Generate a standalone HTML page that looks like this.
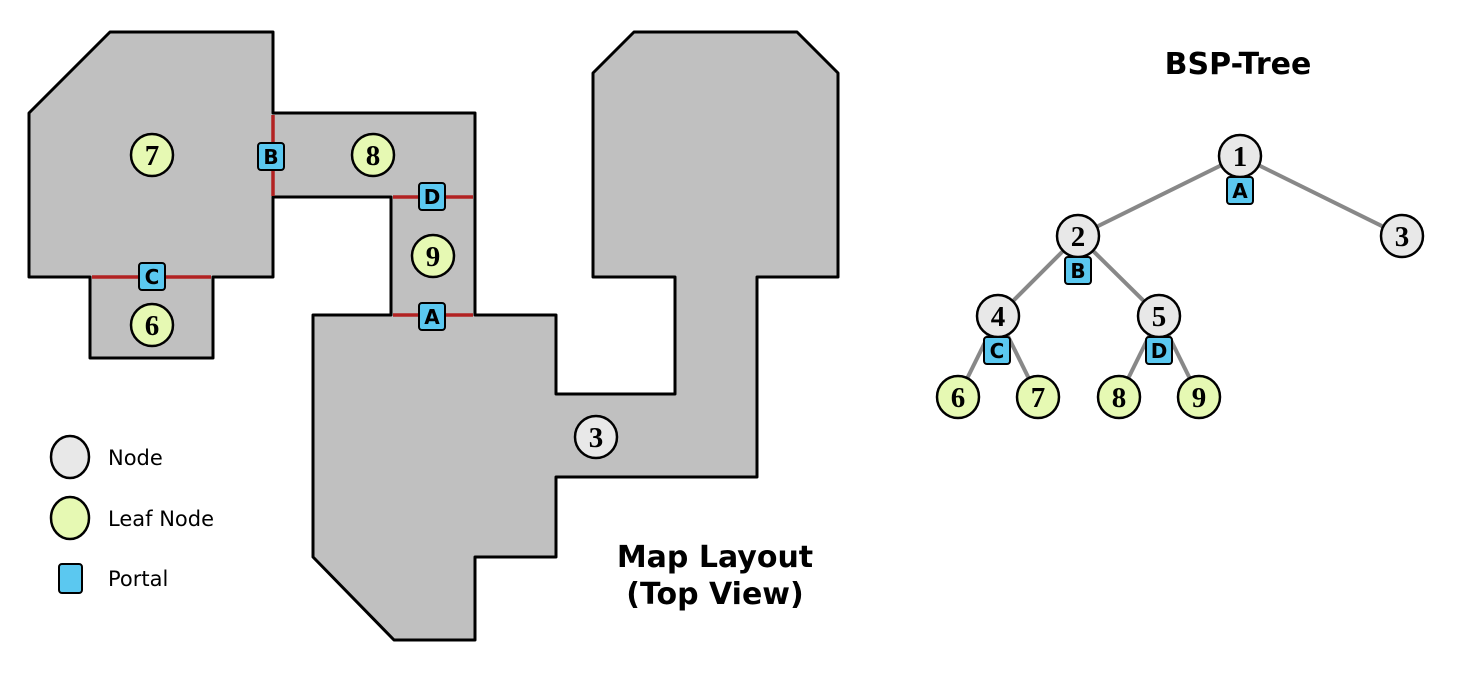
<!DOCTYPE html>
<html><head><meta charset="utf-8"><style>body{margin:0;background:#fff}svg{display:block}</style></head>
<body>
<svg width="1464" height="676" viewBox="0 0 1464 676" xmlns="http://www.w3.org/2000/svg">
<g fill="#c0c0c0" stroke="#000" stroke-width="3" stroke-linejoin="round">
<polygon points="110,32 273,32 273,113 475,113 475,315 556,315 556,394 675,394 675,277 593,277 593,73 634,32 797,32 838,73 838,277 757,277 757,477 556,477 556,557 475,557 475,640 394,640 313,557 313,315 391,315 391,197 273,197 273,277 213,277 213,358 90,358 90,277 29,277 29,113"/>
</g>
<g stroke="#b22222" stroke-width="3.5">
<line x1="273" y1="115" x2="273" y2="196"/>
<line x1="393" y1="197" x2="473" y2="197"/>
<line x1="393" y1="315" x2="473" y2="315"/>
<line x1="92" y1="277" x2="211" y2="277"/>
</g>
<g stroke="#888" stroke-width="4">
<line x1="1240" y1="156" x2="1078" y2="236"/>
<line x1="1240" y1="156" x2="1402" y2="236"/>
<line x1="1078" y1="236" x2="998" y2="316"/>
<line x1="1078" y1="236" x2="1159" y2="316"/>
<line x1="998" y1="316" x2="958" y2="397"/>
<line x1="998" y1="316" x2="1038" y2="397"/>
<line x1="1159" y1="316" x2="1119" y2="397"/>
<line x1="1159" y1="316" x2="1199" y2="397"/>
</g>
<g stroke="#000" stroke-width="2.5" font-family="Liberation Serif, serif" font-weight="bold" font-size="29" text-anchor="middle">
<g fill="#e6f9b3"><circle cx="152" cy="155" r="21"/><circle cx="373" cy="155" r="21"/><circle cx="433" cy="256" r="21"/><circle cx="152" cy="325" r="21"/>
<circle cx="958" cy="397" r="21"/><circle cx="1038" cy="397" r="21"/><circle cx="1119" cy="397" r="21"/><circle cx="1199" cy="397" r="21"/>
<ellipse cx="70" cy="518" rx="19" ry="21"/></g>
<g fill="#e8e8e8"><circle cx="596" cy="437" r="21"/><circle cx="1240" cy="156" r="21"/><circle cx="1078" cy="236" r="21"/><circle cx="1402" cy="236" r="21"/><circle cx="998" cy="316" r="21"/><circle cx="1159" cy="316" r="21"/>
<ellipse cx="70" cy="457" rx="19" ry="21"/></g>
<g fill="#000" stroke="none">
<text x="152" y="165">7</text><text x="373" y="165">8</text><text x="433" y="266">9</text><text x="152" y="335">6</text>
<text x="958" y="407">6</text><text x="1038" y="407">7</text><text x="1119" y="407">8</text><text x="1199" y="407">9</text>
<text x="596" y="447">3</text><text x="1240" y="166">1</text><text x="1078" y="246">2</text><text x="1402" y="246">3</text><text x="998" y="326">4</text><text x="1159" y="326">5</text>
</g>
</g>
<g stroke="#000" stroke-width="2" fill="#5bc8f0" font-family="DejaVu Sans, sans-serif" font-weight="bold" font-size="20" text-anchor="middle">
<rect x="258" y="143" width="26" height="27" rx="3"/><rect x="419" y="183" width="26" height="27" rx="3"/><rect x="139" y="263" width="26" height="27" rx="3"/><rect x="419" y="303" width="26" height="27" rx="3"/>
<rect x="1227" y="177" width="26" height="27" rx="3"/><rect x="1065" y="257" width="26" height="27" rx="3"/><rect x="984" y="337" width="26" height="27" rx="3"/><rect x="1146" y="337" width="26" height="27" rx="3"/>
<rect x="59" y="564" width="23" height="29" rx="3"/>
<g fill="#000" stroke="none">
<text x="271" y="164">B</text><text x="432" y="204">D</text><text x="152" y="284">C</text><text x="432" y="324">A</text>
<text x="1240" y="198">A</text><text x="1078" y="278">B</text><text x="997" y="358">C</text><text x="1159" y="358">D</text>
</g>
</g>
<g font-family="DejaVu Sans, sans-serif" font-size="21" fill="#000">
<text x="108" y="465">Node</text><text x="108" y="526">Leaf Node</text><text x="108" y="586">Portal</text>
</g>
<g font-family="DejaVu Sans, sans-serif" font-weight="bold" fill="#000" text-anchor="middle">
<text x="1238" y="74" font-size="30">BSP-Tree</text>
<text x="715" y="567" font-size="30">Map Layout</text>
<text x="715" y="604" font-size="30">(Top View)</text>
</g>
</svg>
</body></html>
